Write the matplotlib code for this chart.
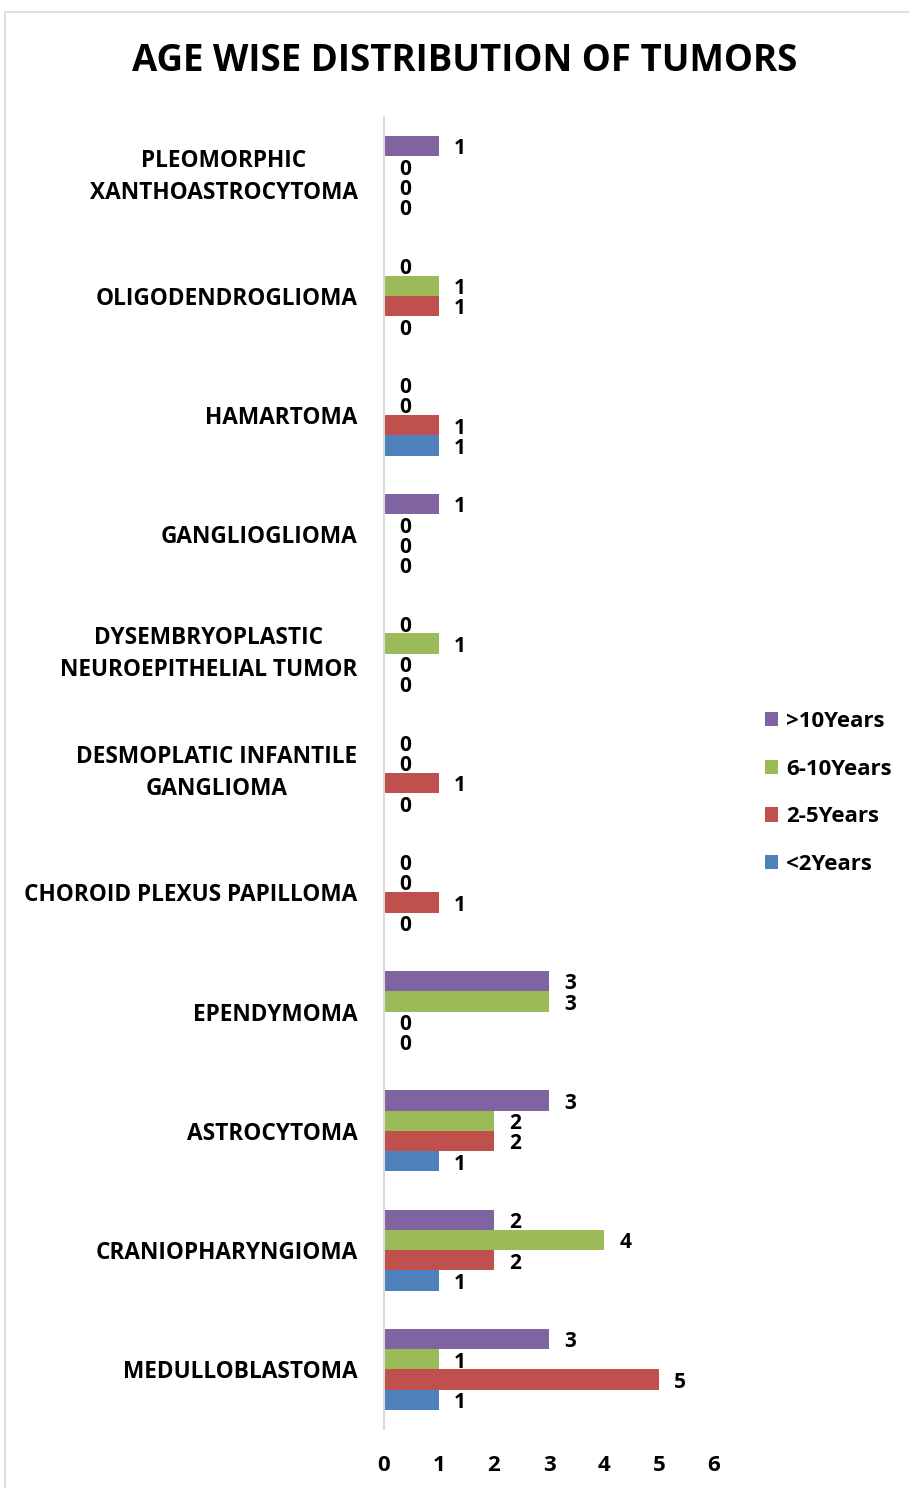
import numpy as np
import matplotlib.pyplot as plt

plt.rcParams['font.family'] = ['Open Sans', 'DejaVu Sans']
plt.rcParams['font.weight'] = 'bold'

categories = [
    "MEDULLOBLASTOMA",
    "CRANIOPHARYNGIOMA",
    "ASTROCYTOMA",
    "EPENDYMOMA",
    "CHOROID PLEXUS PAPILLOMA",
    "DESMOPLATIC INFANTILE\nGANGLIOMA",
    "DYSEMBRYOPLASTIC\nNEUROEPITHELIAL TUMOR",
    "GANGLIOGLIOMA",
    "HAMARTOMA",
    "OLIGODENDROGLIOMA",
    "PLEOMORPHIC\nXANTHOASTROCYTOMA",
]
under_2 = [1, 1, 1, 0, 0, 0, 0, 0, 1, 0, 0]
y2_5 = [5, 2, 2, 0, 1, 1, 0, 0, 1, 1, 0]
y6_10 = [1, 4, 2, 3, 0, 0, 1, 0, 0, 1, 0]
over_10 = [3, 2, 3, 3, 0, 0, 0, 1, 0, 0, 1]

series = [
    ("<2Years", under_2, "#4F81BD"),
    ("2-5Years", y2_5, "#C0504D"),
    ("6-10Years", y6_10, "#9BBB59"),
    (">10Years", over_10, "#8064A2"),
]

W, H = 909, 1488
fig = plt.figure(figsize=(W / 100, H / 100), dpi=100)
ax = fig.add_axes([384 / W, 1 - 1429 / H, (714 - 384) / W, (1429 - 117) / H])

# outer chart border like the Excel chart area
fig.patches.append(plt.Rectangle((5 / W, -0.01), 1.0, 1 - 12 / H + 0.01,
                                 transform=fig.transFigure, fill=False,
                                 edgecolor="#D9D9D9", linewidth=1.2))

y = np.arange(len(categories))
bh = 0.17
for i, (name, vals, color) in enumerate(series):
    pos = y + (i - 1.5) * bh
    bars = ax.barh(pos, vals, height=bh, color=color, label=name)
    for b, v in zip(bars, vals):
        ax.annotate(str(v), (v, b.get_y() + bh / 2), xytext=(11, -2),
                    textcoords="offset points", ha="left", va="center",
                    fontsize=15, fontweight="bold")

ax.set_xlim(0, 6)
ax.set_ylim(-0.5, len(categories) - 0.5)
ax.set_yticks(y)
ax.set_yticklabels(categories, fontsize=16.3, fontweight="bold", ha="right")
for lab in ax.get_yticklabels():
    lab.set_multialignment("center")
    lab.set_linespacing(1.45)
    if "\n" in lab.get_text():
        lab.set_verticalalignment("center")
ax.tick_params(axis="y", length=0, pad=19)
ax.set_xticks(range(7))
ax.tick_params(axis="x", length=0, labelsize=16, pad=19)
for lab in ax.get_xticklabels():
    lab.set_fontweight("bold")
for s in ["top", "right", "bottom"]:
    ax.spines[s].set_visible(False)
ax.spines["left"].set_color("#D9D9D9")
ax.spines["left"].set_linewidth(1.5)

handles, labels = ax.get_legend_handles_labels()
leg = fig.legend(handles[::-1], labels[::-1], loc="center left",
                 bbox_to_anchor=(745 / W, 1 - 793 / H), frameon=False,
                 fontsize=16, handlelength=0.6, handleheight=0.6,
                 handletextpad=0.35, labelspacing=1.2)
for t in leg.get_texts():
    t.set_fontweight("bold")

fig.text(465 / W, 1 - 61 / H, "AGE WISE DISTRIBUTION OF TUMORS",
         ha="center", va="center", fontsize=26.4, fontweight="bold")

fig.savefig("out.png", dpi=100)
